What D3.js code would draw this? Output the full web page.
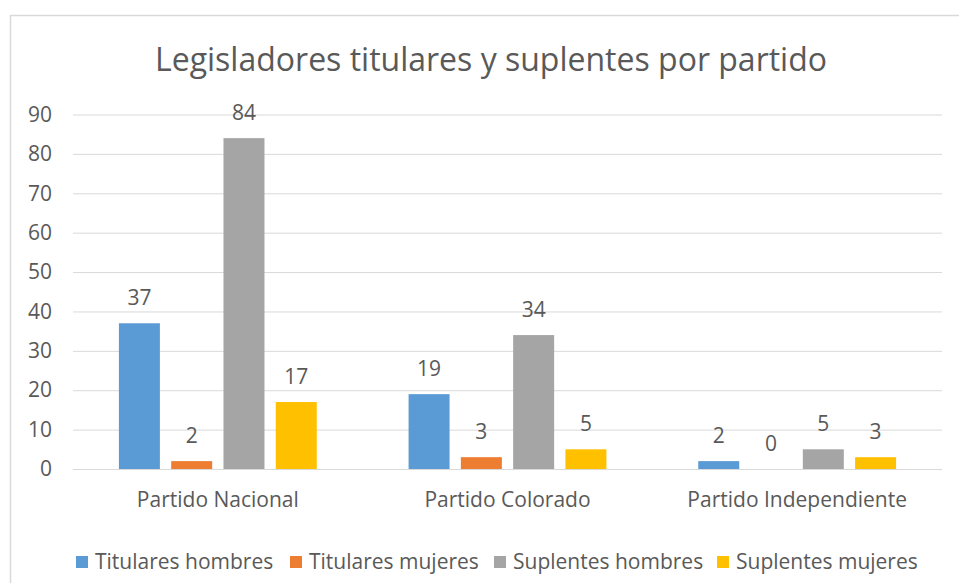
<!DOCTYPE html>
<html>
<head>
<meta charset="utf-8">
<script src="https://cdn.jsdelivr.net/npm/d3@7"></script>
<style>
  body { margin: 0; background: #fff; }
  text { font-family: "Open Sans", "Noto Sans", sans-serif; fill: #595959; }
</style>
</head>
<body>
<div id="chart"></div>
<script>
// data
var partidos = ["Partido Nacional", "Partido Colorado", "Partido Independiente"];
var series = ["Titulares hombres", "Titulares mujeres", "Suplentes hombres", "Suplentes mujeres"];
var titularesHombres = [37, 19, 2];
var titularesMujeres = [2, 3, 0];
var suplentesHombres = [84, 34, 5];
var suplentesMujeres = [17, 5, 3];
var yTicks = [0, 10, 20, 30, 40, 50, 60, 70, 80, 90];
var colores = ["#5B9BD5", "#ED7D31", "#A5A5A5", "#FFC000"];

var valores = [titularesHombres, titularesMujeres, suplentesHombres, suplentesMujeres];

var width = 959, height = 583;
var margin = { top: 114.5, right: 17, bottom: 114, left: 73 };
var innerW = width - margin.left - margin.right,
    innerH = height - margin.top - margin.bottom;
var fs = "21px";

var svg = d3.select("#chart").append("svg")
    .attr("width", width)
    .attr("height", height);

// chart frame (runs off the right / bottom edge like the screenshot)
svg.append("rect")
    .attr("x", 10.5).attr("y", 15.5)
    .attr("width", 1000).attr("height", 1000)
    .attr("fill", "none")
    .attr("stroke", "#D9D9D9")
    .attr("stroke-width", 1.5);

svg.append("text")
    .attr("x", 491)
    .attr("y", 71)
    .attr("text-anchor", "middle")
    .style("font-size", "32px")
    .text("Legisladores titulares y suplentes por partido");

var g = svg.append("g")
    .attr("transform", "translate(" + margin.left + "," + margin.top + ")");

var x0 = d3.scaleBand()
    .domain(partidos)
    .range([0, innerW]);

var x1 = d3.scaleBand()
    .domain(series)
    .range([0, x0.bandwidth()])
    .paddingInner(0.216)
    .paddingOuter(0.878);

var y = d3.scaleLinear()
    .domain([0, 90])
    .range([innerH, 0]);

// gridlines
g.append("g")
    .attr("class", "grid")
    .call(d3.axisLeft(y).tickValues(yTicks).tickSize(-innerW).tickFormat(""))
    .call(function(s) {
      s.select(".domain").remove();
      s.selectAll("line").attr("stroke", "#D9D9D9").attr("stroke-width", 1);
    });

// y axis labels
g.append("g")
    .call(d3.axisLeft(y).tickValues(yTicks).tickSize(0).tickPadding(21))
    .call(function(s) {
      s.select(".domain").remove();
      s.selectAll("text").style("font-size", fs).attr("fill", "#595959");
    });

// x axis labels
g.append("g")
    .attr("transform", "translate(0," + innerH + ")")
    .call(d3.axisBottom(x0).tickSize(0).tickPadding(23))
    .call(function(s) {
      s.select(".domain").remove();
      s.selectAll("text").style("font-size", fs).attr("fill", "#595959");
    });

var rows = [];
partidos.forEach(function(p, i) {
  series.forEach(function(s, j) {
    rows.push({ partido: p, serie: s, value: valores[j][i], color: colores[j] });
  });
});

g.selectAll(".bar")
    .data(rows)
  .enter().append("rect")
    .attr("class", "bar")
    .attr("x", function(d) { return x0(d.partido) + x1(d.serie); })
    .attr("y", function(d) { return y(d.value); })
    .attr("width", x1.bandwidth())
    .attr("height", function(d) { return innerH - y(d.value); })
    .attr("fill", function(d) { return d.color; });

g.selectAll(".lbl")
    .data(rows)
  .enter().append("text")
    .attr("class", "lbl")
    .attr("x", function(d) { return x0(d.partido) + x1(d.serie) + x1.bandwidth() / 2; })
    .attr("y", function(d) { return y(d.value) - 18; })
    .attr("text-anchor", "middle")
    .style("font-size", fs)
    .text(function(d) { return d.value; });

// legend
var legendX = [76, 290, 494, 717];
var legend = svg.selectAll(".legend")
    .data(series)
  .enter().append("g")
    .attr("class", "legend")
    .attr("transform", function(d, i) { return "translate(" + legendX[i] + ",556)"; });

legend.append("rect")
    .attr("width", 12).attr("height", 12)
    .attr("fill", function(d, i) { return colores[i]; });

legend.append("text")
    .attr("x", 19)
    .attr("y", 12.5)
    .style("font-size", fs)
    .text(function(d) { return d; });
</script>
</body>
</html>
